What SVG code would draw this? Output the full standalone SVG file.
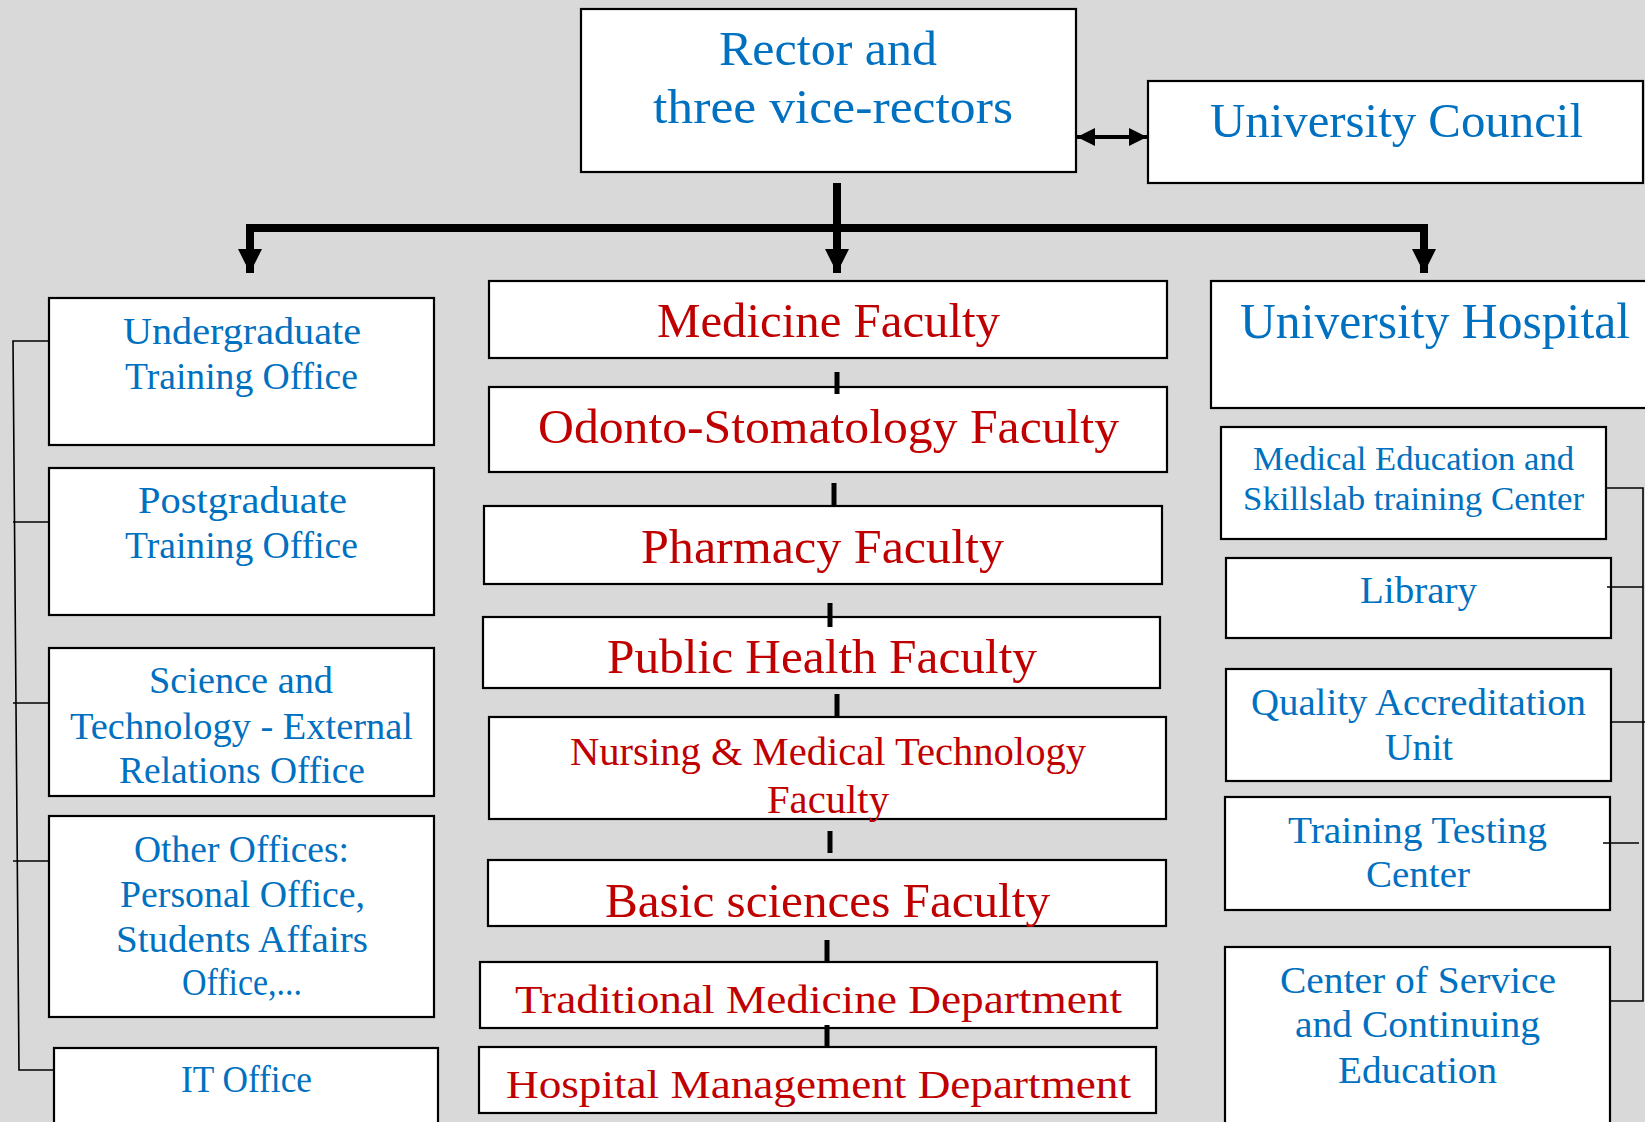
<svg xmlns="http://www.w3.org/2000/svg" width="1645" height="1122" viewBox="0 0 1645 1122">
<style>
.bx{fill:#fff;stroke:#000;stroke-width:2.2}
.b{fill:#0070C0;font-family:"Liberation Serif",serif}
.r{fill:#C00000;font-family:"Liberation Serif",serif}
.thin{stroke:#000;stroke-width:1.6;fill:none}
.thick{stroke:#000;stroke-width:8;fill:none}
.tick{stroke:#000;stroke-width:5;fill:none}
</style>
<defs>
<marker id="ah" viewBox="0 0 10 10" refX="10" refY="5" markerWidth="3" markerHeight="3" markerUnits="strokeWidth" orient="auto"><path d="M0,0 L10,5 L0,10 z" fill="#000"/></marker>
<marker id="ah2" viewBox="0 0 10 10" refX="10" refY="5" markerWidth="4.6" markerHeight="4.6" markerUnits="strokeWidth" orient="auto-start-reverse"><path d="M0,0 L10,5 L0,10 z" fill="#000"/></marker>
</defs>
<rect width="1645" height="1122" fill="#D9D9D9"/>

<g id="rector"><rect class="bx" x="581" y="9" width="495" height="163"/>
<text class="b" font-size="48" x="719" y="65" textLength="218" lengthAdjust="spacingAndGlyphs">Rector and</text>
<text class="b" font-size="48" x="653" y="123" textLength="360" lengthAdjust="spacingAndGlyphs">three vice-rectors</text></g>

<g id="council"><rect class="bx" x="1148" y="81" width="495" height="102"/>
<text class="b" font-size="48" x="1210" y="137" textLength="373" lengthAdjust="spacingAndGlyphs">University Council</text></g>

<g id="undergrad"><rect class="bx" x="49" y="298" width="385" height="147"/>
<text class="b" font-size="38" x="123" y="344" textLength="238" lengthAdjust="spacingAndGlyphs">Undergraduate</text>
<text class="b" font-size="38" x="125" y="389" textLength="233" lengthAdjust="spacingAndGlyphs">Training Office</text></g>

<g id="postgrad"><rect class="bx" x="49" y="468" width="385" height="147"/>
<text class="b" font-size="38" x="138" y="513" textLength="209" lengthAdjust="spacingAndGlyphs">Postgraduate</text>
<text class="b" font-size="38" x="125" y="558" textLength="233" lengthAdjust="spacingAndGlyphs">Training Office</text></g>

<g id="science"><rect class="bx" x="49" y="648" width="385" height="148"/>
<text class="b" font-size="38" x="149" y="693" textLength="184" lengthAdjust="spacingAndGlyphs">Science and</text>
<text class="b" font-size="38" x="70" y="739" textLength="343" lengthAdjust="spacingAndGlyphs">Technology - External</text>
<text class="b" font-size="38" x="119" y="783" textLength="246" lengthAdjust="spacingAndGlyphs">Relations Office</text></g>

<g id="other"><rect class="bx" x="49" y="816" width="385" height="201"/>
<text class="b" font-size="38" x="134" y="862" textLength="215" lengthAdjust="spacingAndGlyphs">Other Offices:</text>
<text class="b" font-size="38" x="120" y="907" textLength="245" lengthAdjust="spacingAndGlyphs">Personal Office,</text>
<text class="b" font-size="38" x="116" y="952" textLength="252" lengthAdjust="spacingAndGlyphs">Students Affairs</text>
<text class="b" font-size="38" x="182" y="995" textLength="120" lengthAdjust="spacingAndGlyphs">Office,...</text></g>

<g id="it"><rect class="bx" x="54" y="1048" width="384" height="90"/>
<text class="b" font-size="38" x="181" y="1092" textLength="131" lengthAdjust="spacingAndGlyphs">IT Office</text></g>

<g id="medicine"><rect class="bx" x="489" y="281" width="678" height="77"/>
<text class="r" font-size="48" x="657" y="337" textLength="343" lengthAdjust="spacingAndGlyphs">Medicine Faculty</text></g>

<g id="odonto"><rect class="bx" x="489" y="387" width="678" height="85"/>
<text class="r" font-size="48" x="538" y="443" textLength="581" lengthAdjust="spacingAndGlyphs">Odonto-Stomatology Faculty</text></g>

<g id="pharmacy"><rect class="bx" x="484" y="506" width="678" height="78"/>
<text class="r" font-size="48" x="641" y="563" textLength="363" lengthAdjust="spacingAndGlyphs">Pharmacy Faculty</text></g>

<g id="publichealth"><rect class="bx" x="483" y="617" width="677" height="71"/>
<text class="r" font-size="48" x="607" y="673" textLength="430" lengthAdjust="spacingAndGlyphs">Public Health Faculty</text></g>

<g id="nursing"><rect class="bx" x="489" y="717" width="677" height="102"/>
<text class="r" font-size="40" x="570" y="765" textLength="516" lengthAdjust="spacingAndGlyphs">Nursing &amp; Medical Technology</text>
<text class="r" font-size="40" x="767" y="813" textLength="122" lengthAdjust="spacingAndGlyphs">Faculty</text></g>

<g id="basic"><rect class="bx" x="488" y="860" width="678" height="66"/>
<text class="r" font-size="48" x="605" y="917" textLength="445" lengthAdjust="spacingAndGlyphs">Basic sciences Faculty</text></g>

<g id="traditional"><rect class="bx" x="480" y="962" width="677" height="66"/>
<text class="r" font-size="40" x="515" y="1013" textLength="607" lengthAdjust="spacingAndGlyphs">Traditional Medicine Department</text></g>

<g id="hospmgmt"><rect class="bx" x="479" y="1047" width="677" height="66"/>
<text class="r" font-size="40" x="506" y="1098" textLength="625" lengthAdjust="spacingAndGlyphs">Hospital Management Department</text></g>

<g id="hospital"><rect class="bx" x="1211" y="281" width="440" height="127"/>
<text class="b" font-size="51" x="1240" y="338" textLength="390" lengthAdjust="spacingAndGlyphs">University Hospital</text></g>

<g id="mededu"><rect class="bx" x="1221" y="427" width="385" height="112"/>
<text class="b" font-size="33" x="1253" y="470" textLength="321" lengthAdjust="spacingAndGlyphs">Medical Education and</text>
<text class="b" font-size="33" x="1243" y="510" textLength="341" lengthAdjust="spacingAndGlyphs">Skillslab training Center</text></g>

<g id="library"><rect class="bx" x="1226" y="558" width="385" height="80"/>
<text class="b" font-size="37" x="1360" y="603" textLength="117" lengthAdjust="spacingAndGlyphs">Library</text></g>

<g id="quality"><rect class="bx" x="1226" y="669" width="385" height="112"/>
<text class="b" font-size="37" x="1251" y="715" textLength="335" lengthAdjust="spacingAndGlyphs">Quality Accreditation</text>
<text class="b" font-size="37" x="1385" y="760" textLength="68" lengthAdjust="spacingAndGlyphs">Unit</text></g>

<g id="testing"><rect class="bx" x="1225" y="797" width="385" height="113"/>
<text class="b" font-size="37" x="1288" y="843" textLength="259" lengthAdjust="spacingAndGlyphs">Training Testing</text>
<text class="b" font-size="37" x="1366" y="887" textLength="104" lengthAdjust="spacingAndGlyphs">Center</text></g>

<g id="service"><rect class="bx" x="1225" y="947" width="385" height="190"/>
<text class="b" font-size="37" x="1280" y="993" textLength="276" lengthAdjust="spacingAndGlyphs">Center of  Service</text>
<text class="b" font-size="37" x="1295" y="1037" textLength="245" lengthAdjust="spacingAndGlyphs">and Continuing</text>
<text class="b" font-size="37" x="1338" y="1083" textLength="159" lengthAdjust="spacingAndGlyphs">Education</text></g>

<g id="connectors">
<line class="thick" x1="837" y1="183" x2="837" y2="273" marker-end="url(#ah)"/>
<polyline class="thick" points="250,273 250,228 1424,228 1424,273" marker-end="url(#ah)"/>
<path class="thick" d="M250,250 L250,273" marker-end="url(#ah)"/>
<line stroke="#000" stroke-width="4" x1="1077" y1="137" x2="1147" y2="137" marker-start="url(#ah2)" marker-end="url(#ah2)"/>
<line class="tick" x1="837" y1="372" x2="837" y2="394"/>
<line class="tick" x1="834" y1="483" x2="834" y2="506"/>
<line class="tick" x1="830" y1="603" x2="830" y2="627"/>
<line class="tick" x1="837" y1="694" x2="837" y2="717"/>
<line class="tick" x1="830" y1="831" x2="830" y2="853"/>
<line class="tick" x1="827" y1="940" x2="827" y2="962"/>
<line class="tick" x1="827" y1="1025" x2="827" y2="1047"/>
<polyline class="thin" points="49,341 13,341 19,1070 54,1070"/>
<line class="thin" x1="13" y1="522" x2="49" y2="522"/>
<line class="thin" x1="13" y1="703" x2="49" y2="703"/>
<line class="thin" x1="13" y1="861" x2="49" y2="861"/>
<polyline class="thin" points="1606,488 1643,488 1643,1001 1610,1001"/>
<line class="thin" x1="1607" y1="587" x2="1643" y2="587"/>
<line class="thin" x1="1610" y1="722" x2="1645" y2="722"/>
<line class="thin" x1="1603" y1="843" x2="1639" y2="843"/>
</g>
</svg>
